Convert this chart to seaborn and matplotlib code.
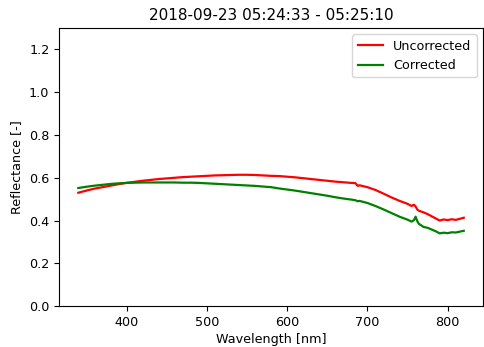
import matplotlib
matplotlib.use("Agg")
import matplotlib.pyplot as plt
import seaborn as sns
import pandas as pd

# Spectrum
wavelength = [340, 350, 360, 370, 380, 390, 400, 410, 420, 430, 440, 450, 460, 470,
              480, 490, 500, 510, 520, 530, 540, 550, 560, 570, 580, 590, 600, 610,
              620, 630, 640, 650, 660, 670, 680, 685, 688, 690, 700, 710, 720, 730,
              740, 750, 755, 758, 760, 762, 764, 770, 775, 780, 785, 790, 795, 800,
              805, 810, 815, 820]
uncorrected = [0.530, 0.540, 0.549, 0.556, 0.563, 0.570, 0.576, 0.581, 0.586, 0.590,
               0.594, 0.597, 0.600, 0.603, 0.605, 0.607, 0.609, 0.611, 0.612, 0.613,
               0.614, 0.614, 0.613, 0.611, 0.609, 0.608, 0.605, 0.602, 0.598, 0.594,
               0.590, 0.586, 0.582, 0.579, 0.576, 0.575, 0.562, 0.565, 0.556, 0.543,
               0.526, 0.508, 0.492, 0.478, 0.468, 0.474, 0.466, 0.452, 0.446, 0.438,
               0.430, 0.420, 0.410, 0.400, 0.405, 0.402, 0.406, 0.403, 0.408, 0.413]
corrected = [0.552, 0.558, 0.563, 0.567, 0.571, 0.574, 0.576, 0.577, 0.578, 0.578,
             0.578, 0.578, 0.578, 0.577, 0.577, 0.576, 0.574, 0.572, 0.570, 0.568,
             0.566, 0.564, 0.562, 0.559, 0.556, 0.550, 0.545, 0.540, 0.534, 0.528,
             0.522, 0.516, 0.509, 0.503, 0.498, 0.495, 0.490, 0.492, 0.482, 0.468,
             0.452, 0.435, 0.418, 0.404, 0.395, 0.402, 0.418, 0.398, 0.385, 0.370,
             0.366, 0.358, 0.350, 0.340, 0.343, 0.341, 0.345, 0.344, 0.348, 0.352]

df = pd.concat([
    pd.DataFrame({"wl": wavelength, "refl": uncorrected, "kind": "Uncorrected"}),
    pd.DataFrame({"wl": wavelength, "refl": corrected, "kind": "Corrected"}),
])

plt.rcParams["font.size"] = 9.2

fig, ax = plt.subplots(figsize=(4.84, 3.47), dpi=100)
sns.lineplot(data=df, x="wl", y="refl", hue="kind",
             palette={"Uncorrected": "red", "Corrected": "green"},
             linewidth=1.6, ax=ax)

ax.set_ylim(0, 1.3)
ax.set_yticks([0.0, 0.2, 0.4, 0.6, 0.8, 1.0, 1.2])
ax.set_xticks([400, 500, 600, 700, 800])
ax.tick_params(labelsize=9.2)
ax.set_title("2018-09-23 05:24:33 - 05:25:10", fontsize=11)
ax.set_xlabel("Wavelength [nm]", fontsize=9.2, labelpad=3)
ax.set_ylabel("Reflectance [-]", fontsize=9.2)
ax.legend(title=None, loc="upper right", fontsize=9.2)

plt.subplots_adjust(left=0.122, right=0.998, top=0.919, bottom=0.118)
fig.savefig("out.png", dpi=100)
